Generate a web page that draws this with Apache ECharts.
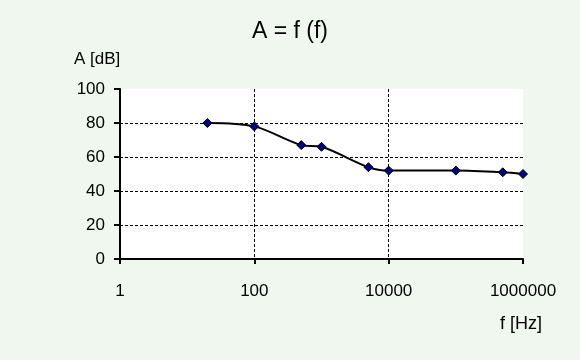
<!DOCTYPE html>
<html><head><meta charset="utf-8">
<script src="https://cdn.jsdelivr.net/npm/echarts@6/dist/echarts.min.js"></script>
<style>html,body{margin:0;padding:0;background:#EFF7EE}#c{width:580px;height:360px}</style>
</head><body><div id="c"></div>
<script>
var freqs = [20, 100, 500, 1000, 5000, 10000, 100000, 500000, 1000000];
var gains = [80, 78, 67, 66, 54, 52, 52, 51, 50];
var yTicks = [0, 20, 40, 60, 80, 100];
var xTicks = [1, 100, 10000, 1000000];
var titleText = 'A = f (f)';
var yName = 'A [dB]';
var xName = 'f [Hz]';

var chart = echarts.init(document.getElementById('c'), null, {renderer: 'canvas'});
var font = 'Liberation Sans, Arial, sans-serif';
chart.setOption({
  backgroundColor: '#EFF7EE',
  animation: false,
  textStyle: {fontFamily: font},
  title: [
    {text: titleText, left: 'center', top: 15, textStyle: {fontSize: 23, fontWeight: 'normal', color: '#000', fontFamily: font}},
    {text: yName, left: 69, top: 46, textStyle: {fontSize: 17, fontWeight: 'normal', color: '#000', fontFamily: font}},
    {text: xName, left: 495, top: 310, textStyle: {fontSize: 18, fontWeight: 'normal', color: '#000', fontFamily: font}}
  ],
  grid: {left: 120, right: 57, top: 89, bottom: 101, show: true, backgroundColor: '#fff', borderWidth: 0},
  xAxis: {
    type: 'log', logBase: 10, min: xTicks[0], max: xTicks[xTicks.length - 1], interval: 2,
    axisLine: {lineStyle: {color: '#000', width: 2}},
    axisTick: {show: true, length: 5, lineStyle: {color: '#000', width: 2}},
    axisLabel: {color: '#000', fontSize: 17, margin: 24, fontFamily: font,
      formatter: function (v) { return String(Math.round(v)); }},
    splitLine: {show: true, showMinLine: false, showMaxLine: false, lineStyle: {color: '#000', type: [3, 2], width: 1}},
    minorTick: {show: false}
  },
  yAxis: {
    type: 'value', min: yTicks[0], max: yTicks[yTicks.length - 1], interval: 20,
    axisLine: {show: true, lineStyle: {color: '#000', width: 2}},
    axisTick: {show: true, length: 6, lineStyle: {color: '#000', width: 2}},
    axisLabel: {color: '#000', fontSize: 17, margin: 15, fontFamily: font, padding: [5, 0, 0, 0]},
    splitLine: {show: true, showMinLine: false, showMaxLine: false, lineStyle: {color: '#000', type: [3, 2], width: 1}}
  },
  series: [{
    type: 'line',
    data: freqs.map(function (f, i) { return [f, gains[i]]; }),
    smooth: 0.3,
    symbol: 'diamond',
    symbolSize: 9,
    itemStyle: {color: '#000080', borderColor: '#000', borderWidth: 1},
    lineStyle: {color: '#000', width: 2}
  }]
});
</script></body></html>
